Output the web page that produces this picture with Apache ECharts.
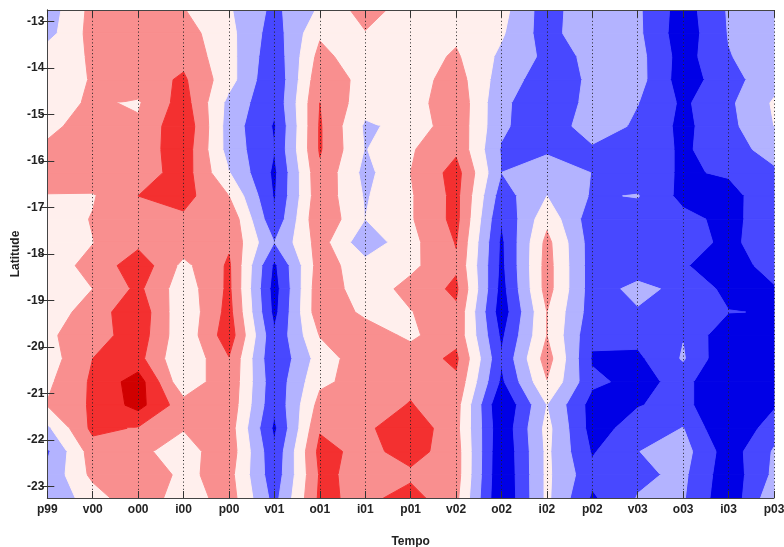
<!DOCTYPE html>
<html>
<head>
<meta charset="utf-8">
<style>html,body{margin:0;padding:0;background:#fff}#c{width:784px;height:547px}</style>
<script src="https://cdn.jsdelivr.net/npm/echarts@6/dist/echarts.min.js"></script>
</head>
<body>
<div id="c"></div>
<script>
const tempoLabels = ['p99','v00','o00','i00','p00','v01','o01','i01','p01','v02','o02','i02','p02','v03','o03','i03','p03'];
const latitudes = [-12.75,-13.25,-13.75,-14.25,-14.75,-15.25,-15.75,-16.25,-16.75,-17.25,-17.75,-18.25,-18.75,-19.25,-19.75,-20.25,-20.75,-21.25,-21.75,-22.25,-22.75,-23.25];
const latTicks = [-13,-14,-15,-16,-17,-18,-19,-20,-21,-22,-23];
const row00 = [-1.07,.82,1.0,.55,-.39,-1.75,-.36,.93,0,-.1,-.15,-2.04,-.6,-1.34,-3.0,-1.4,-1.0];
const row01 = [-.88,.87,1.0,.94,-.2,-2.0,.34,.44,0,.3,-.37,-2.0,-.55,-1.3,-3.1,-1.45,-1.0];
const row02 = [.1,.58,1.0,1.2,-.15,-2.2,.83,-.2,0,.63,-.72,-1.73,-1.38,-1.15,-2.95,-1.55,-1.0];
const row03 = [.1,.55,1.0,1.65,-.11,-2.4,1.2,.15,0,.97,-.99,-2.03,-1.34,-1.11,-3.03,-1.88,-.88];
const row04 = [.15,.62,.4,1.95,-.8,-2.32,1.5,-.1,0,1.25,-1.3,-2.2,-1.2,-1.47,-2.68,-1.7,-.38];
const row05 = [.3,.87,.63,2.3,-.95,-2.6,1.6,-.65,-.2,1.2,-1.3,-2.35,-.8,-1.71,-2.75,-1.8,-.5];
const row06 = [.65,1.0,.9,2.1,-.9,-2.48,1.6,-.55,.4,1.3,-1.6,-1.65,-1.7,-1.9,-2.65,-1.97,-1.07];
const row07 = [.8,1.1,.9,2.0,-.45,-2.7,1.3,-.8,.5,1.9,-1.5,-1.0,-1.52,-2.1,-2.6,-2.4,-1.7];
const row08 = [.47,.42,1.5,1.87,.5,-2.6,1.2,-.6,.4,1.79,-2.0,-.5,-1.6,-1.45,-2.8,-2.8,-1.92];
const row09 = [0,.55,1.1,1.3,1.3,-2.3,1.38,-.5,.4,1.8,-2.45,.2,-2.1,-2.0,-2.2,-2.8,-1.9];
const row10 = [.2,.48,1.2,1.1,1.35,-1.5,.95,-1.2,.2,1.55,-2.7,.8,-2.0,-2.1,-2.35,-2.58,-2.3];
const row11 = [.15,.72,2.17,.22,1.65,-2.7,1.0,-.1,.25,1.35,-2.75,.9,-2.0,-2.1,-2.42,-3.0,-2.1];
const row12 = [-.1,.5,1.72,-.1,1.7,-2.95,1.2,-.1,.85,1.7,-2.9,.9,-2.0,-1.2,-1.8,-2.77,-2.6];
const row13 = [-.1,1.0,2.2,-.3,1.85,-2.8,1.2,.3,.45,1.3,-3.1,.5,-2.0,-1.6,-1.9,-2.47,-2.55];
const row14 = [.35,1.0,2.07,-.25,2.1,-2.35,.55,1.0,.3,1.2,-2.7,.5,-2.3,-2.2,-1.55,-3.3,-3.0];
const row15 = [0,1.5,1.82,-.45,1.45,-2.4,-.05,1.17,1.0,1.7,-2.4,.97,-2.6,-2.7,-1.4,-3.4,-3.2];
const row16 = [.3,1.66,3.0,-.3,1.3,-2.2,.3,.9,1.3,1.3,-2.7,.45,-2.3,-2.8,-2.2,-3.5,-3.2];
const row17 = [.55,1.65,2.85,.9,1.2,-2.3,.85,1.1,1.55,.9,-3.5,-.5,-2.9,-2.55,-2.2,-3.5,-2.65];
const row18 = [-.7,1.75,1.42,.55,1.0,-2.7,1.4,1.3,2.2,.8,-3.3,-.2,-2.9,-2.1,-1.47,-3.6,-1.9];
const row19 = [-1.65,1.0,.7,.1,1.1,-2.3,1.8,1.2,1.9,.95,-3.4,-.3,-2.6,-1.52,-1.1,-3.03,-1.4];
const row20 = [-1.3,.75,1.1,.3,.85,-2.15,1.6,1.35,1.3,.95,-3.45,-.3,-2.2,-1.7,-1.3,-3.15,-1.3];
const row21 = [-1.3,0,1.3,-.13,1.0,-1.85,1.7,1.25,1.87,.75,-3.5,-.3,-2.65,-1.45,-1.41,-3.26,-.76];
const field = [row00,row01,row02,row03,row04,row05,row06,row07,row08,row09,row10,row11,row12,row13,row14,row15,row16,row17,row18,row19,row20,row21];
const levels = [-Infinity,-2.5,-1.5,-.5,.5,1.5,2.5,Infinity];
const bandColors = ['#0000e6','#4848ff','#b3b3ff','#ffefed','#f98f8f','#f33030','#d00000'];

const chart = echarts.init(document.getElementById('c'), null, {renderer:'canvas'});
const cells = [];
for (let r = 0; r < latitudes.length - 1; r++) for (let c = 0; c < tempoLabels.length - 1; c++) cells.push([c, r]);

// a corner sitting exactly on a contour level counts as just above it
function sample(r, c) {
  const v = field[r][c];
  return levels.indexOf(v) >= 0 ? v + 0.001 : v;
}

function bandPolygon(corners, lo, hi) {
  const pts = [];
  for (let i = 0; i < 4; i++) {
    const a = corners[i], b = corners[(i + 1) % 4];
    if (a[2] >= lo && a[2] < hi) pts.push([a[0], a[1]]);
    const cuts = [lo, hi].filter(l => isFinite(l) && (a[2] - l) * (b[2] - l) < 0)
      .map(l => (l - a[2]) / (b[2] - a[2])).sort((p, q) => p - q);
    cuts.forEach(t => pts.push([a[0] + (b[0] - a[0]) * t, a[1] + (b[1] - a[1]) * t]));
  }
  return pts;
}

function renderCell(params, api) {
  const c = api.value(0), r = api.value(1);
  const corners = [
    [c, latitudes[r], sample(r, c)],
    [c + 1, latitudes[r], sample(r, c + 1)],
    [c + 1, latitudes[r + 1], sample(r + 1, c + 1)],
    [c, latitudes[r + 1], sample(r + 1, c)]
  ];
  const children = [];
  for (let b = 0; b < bandColors.length; b++) {
    const pts = bandPolygon(corners, levels[b], levels[b + 1]);
    if (pts.length >= 3) {
      children.push({
        type: 'polygon',
        shape: {points: pts.map(p => api.coord(p))},
        style: {fill: bandColors[b], stroke: bandColors[b], lineWidth: 1, lineJoin: 'round'}
      });
    }
  }
  return {type: 'group', children};
}

const labelFont = {fontFamily: '"Liberation Sans", Arial, sans-serif', fontWeight: 'bold', fontSize: 12, color: '#222'};
const axisLine = {show: true, lineStyle: {color: '#444', width: 1}};
const tick = {show: true, inside: true, length: 7, lineStyle: {color: '#333', width: 1}};

chart.setOption({
  animation: false,
  backgroundColor: '#fff',
  grid: {left: 47.3, right: 10, top: 10, bottom: 49, containLabel: false, outerBoundsMode: 'none'},
  xAxis: [{
    type: 'value', min: 0, max: 16, interval: 1, position: 'bottom', z: 10,
    name: 'Tempo', nameLocation: 'center', nameGap: 38, nameMoveOverlap: false, nameTextStyle: labelFont,
    axisLine, axisTick: tick,
    axisLabel: Object.assign({margin: 6, hideOverlap: false, showMinLabel: true, showMaxLabel: true,
      formatter: v => tempoLabels[v]}, labelFont),
    splitLine: {show: true, lineStyle: {color: '#222', width: 1, type: [1, 2.6]}}
  }, {
    type: 'value', min: 0, max: 16, interval: 1, position: 'top', z: 10,
    axisLine, axisTick: tick, axisLabel: {show: false}, splitLine: {show: false}
  }],
  yAxis: [{
    type: 'value', min: -23.25, max: -12.75, position: 'left', z: 10,
    name: 'Latitude', nameLocation: 'center', nameRotate: 90, nameGap: 26, nameMoveOverlap: false, nameTextStyle: labelFont,
    axisLine,
    axisTick: Object.assign({customValues: latTicks}, tick),
    axisLabel: Object.assign({margin: 3, customValues: latTicks}, labelFont),
    splitLine: {show: false}
  }, {
    type: 'value', min: -23.25, max: -12.75, position: 'right', z: 10,
    axisLine,
    axisTick: Object.assign({customValues: latTicks}, tick),
    axisLabel: {show: false},
    splitLine: {show: false}
  }],
  series: [{
    type: 'custom',
    coordinateSystem: 'cartesian2d',
    xAxisIndex: 0, yAxisIndex: 0,
    z: 2, silent: true, clip: true,
    data: cells,
    encode: {x: 0},
    renderItem: renderCell
  }]
});
</script>
</body>
</html>
